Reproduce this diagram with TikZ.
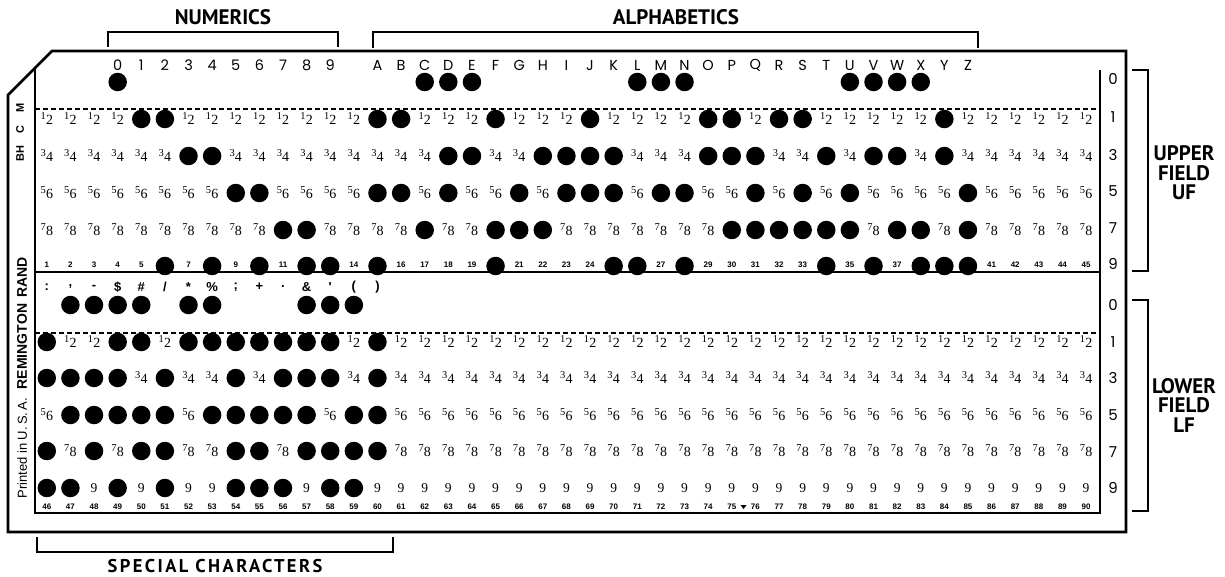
\documentclass[tikz,border=0pt]{standalone}
\usepackage{fontspec}
\setmainfont{Liberation Serif}
\newfontfamily\geofont{Poppins}
\newfontfamily\headfont{PT Sans}
\newfontfamily\smallsans{Liberation Sans}
\usetikzlibrary{positioning}

\newif\ifpunch
\makeatletter
\newcommand\checkhole[2]{\edef\cardtmp{\noexpand\in@{,#1,}{,#2,}}\cardtmp
  \ifin@\punchtrue\else\punchfalse\fi}
\makeatother
\newcommand\pairdig[2]{\raisebox{5pt}{\fontsize{10.5}{10.5}\selectfont #1}\kern0.2pt#2}

% punched columns, one list per row
\def\holesUzero{4,17,18,19,26,27,28,35,36,37,38}
\def\holesUone{5,6,15,16,20,24,29,30,32,33,39}
\def\holesUthree{7,8,18,19,22,23,24,25,29,30,31,34,36,37,39}
\def\holesUfive{9,10,15,16,18,21,23,24,25,27,28,31,33,35,40}
\def\holesUseven{11,12,17,20,21,22,30,31,32,33,34,35,37,38,40}
\def\holesUnine{6,8,10,12,13,15,20,25,26,28,34,36,38,39,40}
\def\holesLzero{2,3,4,5,7,8,12,13,14}
\def\holesLone{1,4,5,7,8,9,10,11,12,13,15}
\def\holesLthree{1,2,3,4,6,9,11,12,13,15}
\def\holesLfive{2,3,4,5,6,8,9,10,11,12,14,15}
\def\holesLseven{1,3,5,6,9,10,12,13,14,15}
\def\holesLnine{1,2,4,6,9,10,11,13,14}

\begin{document}
\begin{tikzpicture}[x=1pt, y=-1pt,
    hole/.style={circle, fill=black, inner sep=0pt, minimum size=18.5pt},
    pairtxt/.style={inner sep=0pt, font=\fontsize{14}{14}\selectfont},
    ninetxt/.style={inner sep=0pt, font=\fontsize{13.5}{13.5}\selectfont},
    colnum/.style={inner sep=0pt, font=\smallsans\bfseries\fontsize{8}{8}\selectfont},
    keych/.style={inner sep=0pt, font=\geofont\fontsize{14.5}{14.5}\selectfont},
    specch/.style={inner sep=0pt, font=\smallsans\bfseries\fontsize{13}{13}\selectfont},
    rowlbl/.style={inner sep=0pt, font=\geofont\fontsize{15}{15}\selectfont},
    headlbl/.style={inner sep=0pt, align=center, font=\headfont\bfseries\fontsize{21}{19.5}\selectfont},
    edge/.style={line width=2.8pt, line join=miter},
    brk/.style={line width=2.7pt},
    fold/.style={line width=1.2pt, dash pattern=on 5pt off 3pt}
]
\useasboundingbox (0,0) rectangle (1225,576);

% card outline
\draw[edge] (52,51) -- (1126,51) -- (1126,532) -- (8,532) -- (8,95) -- cycle;
\draw[edge, line width=2.6pt] (35,68) -- (35,513) -- (1100,513) -- (1100,70);
\draw[line width=2.6pt] (35,272) -- (1100,272);
\draw[fold] (35,109) -- (1100,109);
\draw[fold] (35,333) -- (1100,333);

% side texts
\node[rotate=90, inner sep=0pt, font=\smallsans\bfseries\fontsize{11}{11}\selectfont] (code) at (20,132) {BH\hspace{12pt}C\hspace{13pt}M};
\node[rotate=90, inner sep=0pt, font=\smallsans\fontsize{13}{13}\selectfont] (maker) at (22,378)
    {Printed in U.\,S.\,A.\hspace{9pt}{\bfseries\fontsize{14}{14}\selectfont REMINGTON\hspace{6pt}RAND}};

% key characters
\foreach \ch [count=\i from 4] in {0,...,9}
    \node[keych] (key-\i) at ({46.8+(\i-1)*23.62},65) {\ch};
\foreach \ch [count=\i from 15] in {A,...,Z}
    \node[keych] (key-\i) at ({46.8+(\i-1)*23.62},65) {\ch};
\foreach \ch [count=\i] in {:,{,},-,\$,\#,/,*,\%,;,+,.,\&,',{(},{)}}
    \node[specch] (spc-\i) at ({46.8+(\i-1)*23.62},287) {\ch};

% upper field
\foreach \c in \holesUzero
    \node[hole] (up0-\c) at ({46.8+(\c-1)*23.62},82) {};
\foreach \r/\ya/\a/\b/\lst in {1/119/1/2/\holesUone, 3/156/3/4/\holesUthree,
        5/193/5/6/\holesUfive, 7/230/7/8/\holesUseven}
    \foreach \c in {1,...,45} {
        \checkhole{\c}{\lst}
        \ifpunch \node[hole] (up\r-\c) at ({46.8+(\c-1)*23.62},\ya) {};
        \else \node[pairtxt] (up\r-\c) at ({46.8+(\c-1)*23.62},\ya) {\pairdig{\a}{\b}};
        \fi
    }
\foreach \c in {1,...,45} {
    \checkhole{\c}{\holesUnine}
    \ifpunch \node[hole] (up9-\c) at ({46.8+(\c-1)*23.62},266) {};
    \else \node[colnum] (up9-\c) at ({46.8+(\c-1)*23.62},265) {\c};
    \fi
}

% lower field
\foreach \c in \holesLzero
    \node[hole] (lo0-\c) at ({46.8+(\c-1)*23.62},305) {};
\foreach \r/\ya/\a/\b/\lst in {1/342/1/2/\holesLone, 3/378/3/4/\holesLthree,
        5/415/5/6/\holesLfive, 7/451/7/8/\holesLseven}
    \foreach \c in {1,...,45} {
        \checkhole{\c}{\lst}
        \ifpunch \node[hole] (lo\r-\c) at ({46.8+(\c-1)*23.62},\ya) {};
        \else \node[pairtxt] (lo\r-\c) at ({46.8+(\c-1)*23.62},\ya) {\pairdig{\a}{\b}};
        \fi
    }
\foreach \c [evaluate=\c as \n using {int(\c+45)}] in {1,...,45} {
    \checkhole{\c}{\holesLnine}
    \ifpunch \node[hole] (lo9-\c) at ({46.8+(\c-1)*23.62},488) {};
    \else \node[ninetxt] (lo9-\c) at ({46.8+(\c-1)*23.62},488) {9};
    \fi
    \node[colnum] (num-\n) at ({46.8+(\c-1)*23.62},507) {\n};
}
\fill (740.5,505) -- (746.5,505) -- (743.5,509) -- cycle;

% row digits at the right edge
\foreach \t/\ya in {0/79,1/117,3/155,5/191,7/228,9/264}
    \node[rowlbl] (ru-\t) at (1113,\ya) {\t};
\foreach \t/\ya in {0/305,1/342,3/378,5/415,7/452,9/488}
    \node[rowlbl] (rl-\t) at (1113,\ya) {\t};

% brackets
\node[headlbl] (numhd) at (223,17) {NUMERICS};
\draw[brk] (108,47) -- (108,32) -- (338,32) -- (338,47);
\node[headlbl] (alphd) at (676,17) {ALPHABETICS};
\draw[brk] (373,48) -- (373,32) -- (978,32) -- (978,48);
\draw[brk] (1132,70) -- (1148,70) -- (1148,271) -- (1132,271);
\node[headlbl] (uphd) at (1184,173) {UPPER\\FIELD\\UF};
\draw[brk] (1132,300) -- (1148,300) -- (1148,511) -- (1132,511);
\node[headlbl] (lohd) at (1184,405) {LOWER\\FIELD\\LF};
\draw[brk] (37,537) -- (37,552) -- (393,552) -- (393,537);
\node[headlbl, font=\headfont\bfseries\fontsize{18.5}{19}\selectfont\addfontfeature{LetterSpace=13}] (sphd) at (215,566) {SPECIAL CHARACTERS};
\end{tikzpicture}
\end{document}
